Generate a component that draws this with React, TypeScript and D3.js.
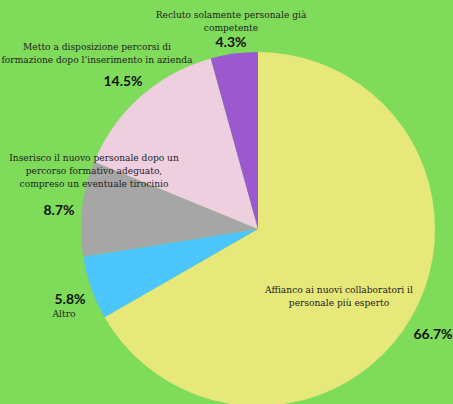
import React, { useEffect, useRef } from 'react';
import * as d3 from 'd3';

const categories = [
  'Affianco ai nuovi collaboratori il personale più esperto',
  'Altro',
  'Inserisco il nuovo personale dopo un percorso formativo adeguato, compreso un eventuale tirocinio',
  'Metto a disposizione percorsi di formazione dopo l\u2019inserimento in azienda',
  'Recluto solamente personale già competente',
];
const values = [66.7, 5.8, 8.7, 14.5, 4.3];
const colors = ['#e6e87a', '#4cc6fd', '#a6a6a6', '#edcfe0', '#9b58cf'];

// label layout: wrapped lines, anchor of text block, where percent goes
const labelLines = [
  ['Affianco ai nuovi collaboratori il', 'personale più esperto'],
  ['Altro'],
  ['Inserisco il nuovo personale dopo un', 'percorso formativo adeguato,', 'compreso un eventuale tirocinio'],
  ['Metto a disposizione percorsi di', 'formazione dopo l\u2019inserimento in azienda'],
  ['Recluto solamente personale già', 'competente'],
];
const labelPos = [
  { x: 339, y: 293, px: 433, py: 339 },
  { x: 64, y: 317, px: 70, py: 304 },
  { x: 94, y: 161, px: 59, py: 215 },
  { x: 97, y: 50, px: 123, py: 86 },
  { x: 231, y: 18, px: 231, py: 47 },
];

const W = 453, H = 404;
const cx = 258, cy = 229, R = 177;

function draw(node: SVGSVGElement) {
  const svg = d3.select(node);
  svg.selectAll('*').remove();

  svg.append('rect').attr('width', W).attr('height', H).attr('fill', '#7fdb5a');

  const pie = d3.pie<number>().sort(null).value(d => d);
  const arc = d3.arc<d3.PieArcDatum<number>>().innerRadius(0).outerRadius(R);

  const g = svg.append('g').attr('transform', `translate(${cx},${cy})`);
  g.selectAll('path')
    .data(pie(values))
    .enter().append('path')
    .attr('d', arc)
    .attr('fill', (d, i) => colors[i]);

  const labels = svg.append('g');
  labelLines.forEach((lines, i) => {
    const p = labelPos[i];
    lines.forEach((line, j) => {
      labels.append('text')
        .attr('x', p.x)
        .attr('y', p.y + j * 13)
        .attr('text-anchor', 'middle')
        .style('font-family', '"DejaVu Serif", serif')
        .style('font-size', '9.1px')
        .style('fill', '#222')
        .text(line);
    });
    labels.append('text')
      .attr('x', p.px)
      .attr('y', p.py)
      .attr('text-anchor', 'middle')
      .style('font-family', 'Lato, sans-serif')
      .style('font-weight', 'bold')
      .style('font-size', '14px')
      .style('fill', '#111')
      .text(values[i].toFixed(1) + '%');
  });
}

export default function App() {
  const ref = useRef<SVGSVGElement>(null);
  useEffect(() => {
    if (ref.current) draw(ref.current);
  }, []);
  return (
    <svg ref={ref} width={W} height={H}
      style={{ position: 'absolute', left: 0, top: 0, display: 'block' }} />
  );
}
